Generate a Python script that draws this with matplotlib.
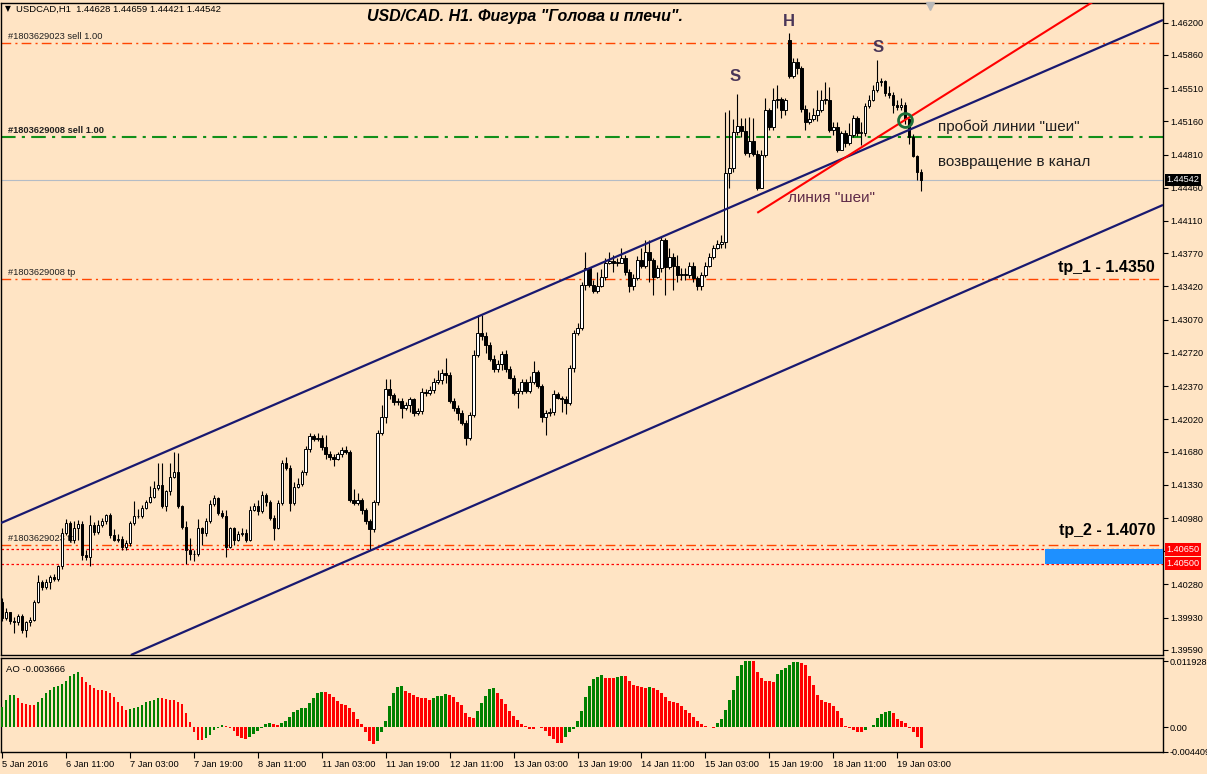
import matplotlib
matplotlib.use("Agg")
import matplotlib.pyplot as plt
import matplotlib.transforms as mtransforms
import numpy as np

W, H = 1207, 774
BG = "#ffe4c4"
UI_FONT = "Liberation Sans"

# USDCAD H1, bars 5 Jan 2016 19:00 .. 19 Jan 2016
first_open = 1.4010
gap_opens = {197: 1.4602}  # Monday 18 Jan opening gap
close = [
    1.3993, 1.3999, 1.3990, 1.3988, 1.3995, 1.3980, 1.3988, 1.3991, 1.4010, 1.4031,
    1.4025, 1.4031, 1.4036, 1.4034, 1.4047, 1.4082, 1.4093, 1.4075, 1.4088, 1.4092,
    1.4059, 1.4057, 1.4091, 1.4083, 1.4091, 1.4095, 1.4101, 1.4080, 1.4075, 1.4076,
    1.4068, 1.4072, 1.4093, 1.4100, 1.4100, 1.4109, 1.4115, 1.4120, 1.4130, 1.4133,
    1.4111, 1.4126, 1.4141, 1.4146, 1.4111, 1.4089, 1.4064, 1.4060, 1.4060, 1.4087,
    1.4082, 1.4095, 1.4113, 1.4119, 1.4103, 1.4100, 1.4068, 1.4087, 1.4075, 1.4081,
    1.4082, 1.4075, 1.4107, 1.4111, 1.4105, 1.4122, 1.4115, 1.4098, 1.4088, 1.4114,
    1.4156, 1.4151, 1.4114, 1.4131, 1.4134, 1.4146, 1.4171, 1.4184, 1.4181, 1.4182,
    1.4173, 1.4166, 1.4162, 1.4160, 1.4165, 1.4170, 1.4168, 1.4117, 1.4114, 1.4117,
    1.4106, 1.4095, 1.4086, 1.4115, 1.4188, 1.4205, 1.4234, 1.4228, 1.4220, 1.4221,
    1.4214, 1.4217, 1.4223, 1.4209, 1.4211, 1.4231, 1.4230, 1.4233, 1.4241, 1.4243,
    1.4251, 1.4249, 1.4221, 1.4214, 1.4209, 1.4198, 1.4182, 1.4207, 1.4270, 1.4293,
    1.4290, 1.4280, 1.4266, 1.4255, 1.4260, 1.4271, 1.4255, 1.4246, 1.4230, 1.4232,
    1.4241, 1.4232, 1.4241, 1.4252, 1.4237, 1.4204, 1.4209, 1.4210, 1.4229, 1.4224,
    1.4223, 1.4219, 1.4256, 1.4293, 1.4298, 1.4344, 1.4361, 1.4344, 1.4337, 1.4342,
    1.4352, 1.4367, 1.4369, 1.4367, 1.4367, 1.4372, 1.4357, 1.4342, 1.4351, 1.4370,
    1.4364, 1.4378, 1.4370, 1.4352, 1.4361, 1.4391, 1.4363, 1.4373, 1.4364, 1.4354,
    1.4355, 1.4354, 1.4364, 1.4351, 1.4342, 1.4354, 1.4364, 1.4373, 1.4383, 1.4387,
    1.4389, 1.4462, 1.4467, 1.4505, 1.4511, 1.4506, 1.4483, 1.4495, 1.4482, 1.4446,
    1.4481, 1.4528, 1.4510, 1.4538, 1.4540, 1.4528, 1.4538, 1.4564, 1.4579, 1.4572,
    1.4529, 1.4515, 1.4518, 1.4523, 1.4528, 1.4539, 1.4539, 1.4507, 1.4510, 1.4486,
    1.4504, 1.4493, 1.4502, 1.4520, 1.4504, 1.4504, 1.4532, 1.4539, 1.4549, 1.4557,
    1.4559, 1.4546, 1.4544, 1.4533, 1.4531, 1.4533, 1.4518, 1.4500, 1.4480, 1.44628,
    1.44542,
]
high = [
    1.4014, 1.4003, 1.3999, 1.3994, 1.3997, 1.3997, 1.3990, 1.3994, 1.4012, 1.4038,
    1.4033, 1.4034, 1.4038, 1.4039, 1.4049, 1.4088, 1.4097, 1.4095, 1.4095, 1.4096,
    1.4095, 1.4064, 1.4101, 1.4094, 1.4096, 1.4098, 1.4102, 1.4103, 1.4086, 1.4081,
    1.4079, 1.4075, 1.4095, 1.4116, 1.4108, 1.4112, 1.4117, 1.4132, 1.4137, 1.4156,
    1.4156, 1.4128, 1.4156, 1.4168, 1.4167, 1.4112, 1.4095, 1.4077, 1.4064, 1.4097,
    1.4089, 1.4098, 1.4117, 1.4122, 1.4120, 1.4107, 1.4107, 1.4089, 1.4089, 1.4084,
    1.4087, 1.4086, 1.4111, 1.4114, 1.4117, 1.4126, 1.4124, 1.4117, 1.4101, 1.4117,
    1.4159, 1.4162, 1.4154, 1.4136, 1.4140, 1.4149, 1.4174, 1.4188, 1.4187, 1.4188,
    1.4185, 1.4186, 1.4169, 1.4165, 1.4168, 1.4173, 1.4174, 1.4170, 1.4129, 1.4124,
    1.4119, 1.4109, 1.4097, 1.4117, 1.4191, 1.4217, 1.4244, 1.4244, 1.4230, 1.4225,
    1.4225, 1.4220, 1.4226, 1.4225, 1.4214, 1.4235, 1.4234, 1.4237, 1.4246, 1.4254,
    1.4255, 1.4267, 1.4252, 1.4225, 1.4217, 1.4212, 1.4201, 1.4210, 1.4275, 1.4312,
    1.4312, 1.4294, 1.4284, 1.4270, 1.4265, 1.4274, 1.4275, 1.4258, 1.4249, 1.4235,
    1.4244, 1.4244, 1.4248, 1.4263, 1.4254, 1.4239, 1.4212, 1.4214, 1.4233, 1.4231,
    1.4227, 1.4227, 1.4259, 1.4296, 1.4304, 1.4347, 1.4378, 1.4362, 1.4349, 1.4357,
    1.4360, 1.4372, 1.4378, 1.4375, 1.4372, 1.4383, 1.4375, 1.4360, 1.4355, 1.4374,
    1.4383, 1.4391, 1.4391, 1.4372, 1.4365, 1.4394, 1.4393, 1.4383, 1.4377, 1.4375,
    1.4362, 1.4362, 1.4368, 1.4368, 1.4353, 1.4357, 1.4368, 1.4377, 1.4386, 1.4391,
    1.4396, 1.4526, 1.4528, 1.4518, 1.4545, 1.4520, 1.4520, 1.4521, 1.4519, 1.4486,
    1.4486, 1.4541, 1.4530, 1.4551, 1.4554, 1.4542, 1.4541, 1.4609, 1.4583, 1.4583,
    1.4574, 1.4533, 1.4526, 1.4530, 1.4549, 1.4549, 1.4557, 1.4552, 1.4515, 1.4515,
    1.4506, 1.4507, 1.4514, 1.4523, 1.4522, 1.4515, 1.4535, 1.4544, 1.4554, 1.4581,
    1.4562, 1.4560, 1.4553, 1.4547, 1.4539, 1.4541, 1.4536, 1.4520, 1.4503, 1.4481,
    1.44659,
]
low = [
    1.3989, 1.3991, 1.3986, 1.3977, 1.3985, 1.3977, 1.3973, 1.3984, 1.3989, 1.4008,
    1.4022, 1.4023, 1.4023, 1.4032, 1.4032, 1.4044, 1.4080, 1.4073, 1.4072, 1.4075,
    1.4054, 1.4054, 1.4048, 1.4080, 1.4081, 1.4089, 1.4092, 1.4077, 1.4074, 1.4073,
    1.4064, 1.4064, 1.4069, 1.4091, 1.4098, 1.4098, 1.4108, 1.4114, 1.4119, 1.4128,
    1.4109, 1.4105, 1.4122, 1.4140, 1.4109, 1.4086, 1.4050, 1.4054, 1.4053, 1.4058,
    1.4070, 1.4079, 1.4093, 1.4111, 1.4101, 1.4098, 1.4057, 1.4066, 1.4070, 1.4074,
    1.4079, 1.4073, 1.4074, 1.4105, 1.4101, 1.4103, 1.4111, 1.4096, 1.4075, 1.4086,
    1.4112, 1.4149, 1.4105, 1.4112, 1.4130, 1.4132, 1.4143, 1.4168, 1.4179, 1.4179,
    1.4170, 1.4160, 1.4159, 1.4153, 1.4159, 1.4162, 1.4165, 1.4115, 1.4112, 1.4112,
    1.4102, 1.4092, 1.4064, 1.4083, 1.4112, 1.4186, 1.4198, 1.4223, 1.4217, 1.4217,
    1.4203, 1.4212, 1.4210, 1.4206, 1.4207, 1.4208, 1.4227, 1.4228, 1.4230, 1.4239,
    1.4239, 1.4240, 1.4219, 1.4211, 1.4201, 1.4196, 1.4175, 1.4180, 1.4205, 1.4268,
    1.4286, 1.4272, 1.4263, 1.4252, 1.4252, 1.4254, 1.4252, 1.4244, 1.4228, 1.4214,
    1.4229, 1.4230, 1.4230, 1.4239, 1.4235, 1.4199, 1.4186, 1.4206, 1.4207, 1.4223,
    1.4210, 1.4208, 1.4217, 1.4252, 1.4291, 1.4296, 1.4338, 1.4341, 1.4335, 1.4335,
    1.4341, 1.4349, 1.4366, 1.4357, 1.4364, 1.4368, 1.4354, 1.4336, 1.4338, 1.4349,
    1.4362, 1.4362, 1.4347, 1.4333, 1.4351, 1.4357, 1.4333, 1.4360, 1.4338, 1.4347,
    1.4349, 1.4349, 1.4351, 1.4347, 1.4338, 1.4338, 1.4352, 1.4363, 1.4371, 1.4381,
    1.4383, 1.4383, 1.4446, 1.4463, 1.4502, 1.4499, 1.4481, 1.4478, 1.4479, 1.4444,
    1.4446, 1.4478, 1.4507, 1.4507, 1.4530, 1.4520, 1.4523, 1.4562, 1.4562, 1.4566,
    1.4526, 1.4507, 1.4513, 1.4516, 1.4516, 1.4526, 1.4534, 1.4505, 1.4502, 1.4484,
    1.4486, 1.4489, 1.4491, 1.4500, 1.4501, 1.4491, 1.4501, 1.4530, 1.4537, 1.4547,
    1.4553, 1.4543, 1.4541, 1.4525, 1.4528, 1.4528, 1.4513, 1.4492, 1.4478, 1.4454,
    1.44421,
]

# Awesome Oscillator, one value per bar
ao = [
    0.0036, 0.0050, 0.0058, 0.0059, 0.0053, 0.0044, 0.0042, 0.0041, 0.0041, 0.0046,
    0.0053, 0.0061, 0.0068, 0.0072, 0.0074, 0.0078, 0.0084, 0.0093, 0.0096, 0.0100,
    0.0090, 0.0082, 0.0076, 0.0071, 0.0068, 0.0067, 0.0066, 0.0062, 0.0055, 0.0045,
    0.0038, 0.0032, 0.0033, 0.0034, 0.0037, 0.0041, 0.0045, 0.0048, 0.0050, 0.0052,
    0.0052, 0.0051, 0.0050, 0.0049, 0.0046, 0.0042, 0.0026, 0.0010, -0.0008, -0.0023,
    -0.0023, -0.0020, -0.0013, -0.0005, -0.0002, 0.0004, 0.0003, -0.0002, -0.0007, -0.0015,
    -0.0020, -0.0021, -0.0018, -0.0012, -0.0007, -0.0002, 0.0006, 0.0008, 0.0006, 0.0004,
    0.0008, 0.0012, 0.0019, 0.0027, 0.0032, 0.0034, 0.0035, 0.0043, 0.0052, 0.0061,
    0.0064, 0.0064, 0.0060, 0.0054, 0.0048, 0.0042, 0.0040, 0.0035, 0.0027, 0.0015,
    0.0006, -0.0009, -0.0024, -0.0030, -0.0025, -0.0009, 0.0011, 0.0039, 0.0062, 0.0073,
    0.0074, 0.0066, 0.0061, 0.0058, 0.0054, 0.0052, 0.0052, 0.0050, 0.0052, 0.0056,
    0.0057, 0.0060, 0.0059, 0.0054, 0.0046, 0.0041, 0.0025, 0.0019, 0.0017, 0.0030,
    0.0043, 0.0057, 0.0069, 0.0070, 0.0061, 0.0051, 0.0042, 0.0030, 0.0021, 0.0013,
    0.0006, 0.0002, -0.0003, -0.0003, 0.0001, -0.0001, -0.0007, -0.0015, -0.0021, -0.0029,
    -0.0029, -0.0017, -0.0009, -0.0003, 0.0011, 0.0030, 0.0055, 0.0075, 0.0087, 0.0091,
    0.0094, 0.0089, 0.0088, 0.0088, 0.0091, 0.0092, 0.0092, 0.0084, 0.0077, 0.0074,
    0.0073, 0.0071, 0.0072, 0.0071, 0.0067, 0.0061, 0.0055, 0.0047, 0.0046, 0.0044,
    0.0038, 0.0031, 0.0025, 0.0018, 0.0011, 0.0006, 0.0002, 0.00005, -0.00005, 0.0007,
    0.0015, 0.0032, 0.0050, 0.0068, 0.0092, 0.0112, 0.0119, 0.011928, 0.0119, 0.0100,
    0.0088, 0.0084, 0.0084, 0.0082, 0.0096, 0.0104, 0.0107, 0.0113, 0.0117, 0.01175,
    0.0115, 0.0113, 0.0093, 0.0076, 0.0058, 0.0050, 0.0046, 0.0044, 0.0038, 0.0029,
    0.0016, 0.0003, -0.0001, -0.0005, -0.0008, -0.00085, -0.0004, 0.00003, 0.0005, 0.0016,
    0.0024, 0.0028, 0.0029, 0.0025, 0.0015, 0.0011, 0.0007, -0.0002, -0.0008, -0.0017,
    -0.003666,
]

date_labels = ["5 Jan 2016", "6 Jan 11:00", "7 Jan 03:00", "7 Jan 19:00", "8 Jan 11:00",
               "11 Jan 03:00", "11 Jan 19:00", "12 Jan 11:00", "13 Jan 03:00", "13 Jan 19:00",
               "14 Jan 11:00", "15 Jan 03:00", "15 Jan 19:00", "18 Jan 11:00", "19 Jan 03:00"]
date_step = 16
price_ticks = [1.46200, 1.45860, 1.45510, 1.45160, 1.44810, 1.44460, 1.44110, 1.43770,
               1.43420, 1.43070, 1.42720, 1.42370, 1.42020, 1.41680, 1.41330, 1.40980,
               1.40630, 1.40280, 1.39930, 1.39590]
hidden_tick = 1.40630  # sits under the red pending-order boxes
ao_ticks = [0.011928, 0.0, -0.004409]

sell_lines = [(1.4599, "#1803629023 sell 1.00", "#ff4500"),
              (1.4500, "#1803629008 sell 1.00", "#12901a")]
tp_lines = [(1.4350, "#1803629008 tp"), (1.4070, "#1803629023 tp")]
pending_lines = [1.4065, 1.4050]
bid = 1.44542
upper_chan = [(-0.25, 1.40928), (290.5, 1.46228)]
lower_chan = [(32.25, 1.39537), (290.5, 1.44279)]
neck = [(189.2, 1.44202), (224.75, 1.45143)]
breakout = (226, 1.45175)

n = len(close)
opens = [first_open] + close[:-1]
for k, v in gap_opens.items():
    opens[k] = v
o = np.array(opens)
c = np.array(close)
hi = np.array(high)
lo = np.array(low)
x = np.arange(n)


def fx(px):
    return px / W


def fy(py):
    return 1 - py / H


fig = plt.figure(figsize=(W / 100, H / 100), dpi=100, facecolor=BG)
ax = fig.add_axes([fx(1), fy(655), fx(1163) - fx(1), fy(3) - fy(655)], facecolor=BG)
ax_ao = fig.add_axes([fx(1), fy(752), fx(1163) - fx(1), fy(658) - fy(752)], facecolor=BG)

xmin, xmax = -0.25, 290.5
ax.set_xlim(xmin, xmax)
ax.set_ylim(1.39537, 1.46407)
ax_ao.set_xlim(xmin, xmax)
ax_ao.set_ylim(-0.00444, 0.01247)

for a in (ax, ax_ao):
    for s in a.spines.values():
        s.set_color("black")
        s.set_linewidth(1)
    a.yaxis.tick_right()
    a.tick_params(axis="y", direction="out", length=3.5, width=0.8, pad=1.5,
                  labelsize=6.6, colors="black", labelfontfamily=UI_FONT)

# candles
ax.vlines(x, lo, hi, color="black", lw=0.8, zorder=4)
body = np.maximum(np.abs(c - o), 0.00004)
ax.bar(x, body, bottom=np.minimum(o, c), width=0.62,
       color=np.where(c >= o, "white", "black"), edgecolor="black",
       linewidth=0.7, zorder=5)

ax.set_xticks([])
ax.set_yticks(price_ticks)
ax.set_yticklabels(["" if t == hidden_tick else f"{t:.5f}" for t in price_ticks])

trans_r = mtransforms.blended_transform_factory(ax.transAxes, ax.transData)
lab_font = dict(fontsize=6.7, color="#202020", family=UI_FONT)

# order lines and their labels
for price, txt, col in sell_lines:
    lw = 1.0 if col == "#ff4500" else 1.5
    ax.axhline(price, color=col, lw=lw, ls=(0, (7, 3, 1.5, 3)), zorder=2)
    ax.text(1.5, price + 0.00016, txt, va="bottom", ha="left", zorder=3,
            fontweight="bold" if col != "#ff4500" else "normal", **lab_font)
for price, txt in tp_lines:
    ax.axhline(price, color="#ff4500", lw=1.0, ls=(0, (7, 3, 1.5, 3)), zorder=2)
    ax.text(1.5, price + 0.00016, txt, va="bottom", ha="left", zorder=3, **lab_font)
for price in pending_lines:
    ax.axhline(price, color="#ff0000", lw=0.9, ls=(0, (2, 2)), zorder=2)
ax.axhline(bid, color="#b4bcc6", lw=0.8, zorder=2)

# pending zone box on the right
ax.fill_between([261, xmax], pending_lines[1], pending_lines[0], color="#1e90ff",
                lw=0, zorder=3)

# channel and neckline
for (x0, y0), (x1, y1) in (upper_chan, lower_chan):
    ax.plot([x0, x1], [y0, y1], color="#191970", lw=1.6, zorder=6,
            solid_capstyle="butt")
(nx0, ny0), (nx1, ny1) = neck
slope = (ny1 - ny0) / (nx1 - nx0)
ax.plot([nx0, xmax], [ny0, ny0 + slope * (xmax - nx0)], color="#ff0000", lw=1.5, zorder=6)
ax.plot([breakout[0]], [breakout[1]], marker="o", ms=10, mfc="none", mec="#1b6e38",
        mew=2, zorder=7)

# annotations
ann = dict(family="Liberation Sans", zorder=8)
ax.text(197, 1.46207, "H", ha="center", va="center", fontsize=12, fontweight="bold",
        color="#4a3658", **ann)
ax.text(183.5, 1.45628, "S", ha="center", va="center", fontsize=12, fontweight="bold",
        color="#4a3658", **ann)
ax.text(219.25, 1.45933, "S", ha="center", va="center", fontsize=12, fontweight="bold",
        color="#4a3658", **ann)
ax.text(234.25, 1.45101, 'пробой линии "шеи"', ha="left", va="center", fontsize=11,
        color="#202020", **ann)
ax.text(234.25, 1.44732, "возвращение в канал", ha="left", va="center", fontsize=11,
        color="#202020", **ann)
ax.text(196.75, 1.44353, 'линия "шеи"', ha="left", va="center", fontsize=11,
        color="#5e2a48", **ann)
ax.text(288.5, 1.43615, "tp_1 - 1.4350", ha="right", va="center", fontsize=11.5,
        fontweight="bold", color="black", **ann)
ax.text(288.5, 1.40854, "tp_2 - 1.4070", ha="right", va="center", fontsize=11.5,
        fontweight="bold", color="black", **ann)

# price boxes on the axis
ax.text(1.003, bid, f"{bid:.5f}", transform=trans_r, ha="left", va="center",
        fontsize=6.6, family=UI_FONT, color="white", zorder=9, clip_on=False,
        bbox=dict(boxstyle="square,pad=0.2", fc="black", ec="none"))
for price in pending_lines:
    ax.text(1.003, price, f"{price:.5f}", transform=trans_r, ha="left", va="center",
            fontsize=6.6, family=UI_FONT, color="white", zorder=9, clip_on=False,
            bbox=dict(boxstyle="square,pad=0.2", fc="#ff0000", ec="none"))

# chart shift marker
ax.plot([232.25], [0.995], marker="v", ms=6, color="#b8b8b8",
        transform=mtransforms.blended_transform_factory(ax.transData, ax.transAxes),
        clip_on=False, zorder=9)

# header and title
fig.text(fx(5), fy(9), "▼", fontsize=5.5, va="center", ha="left", color="black")
fig.text(fx(16), fy(9), "USDCAD,H1  1.44628 1.44659 1.44421 1.44542", fontsize=6.8,
         family=UI_FONT, va="center", ha="left", color="black")
fig.text(fx(525), fy(16), 'USD/CAD. H1. Фигура "Голова и плечи".', fontsize=11.5,
         fontweight="bold", fontstyle="italic", family="Liberation Sans",
         va="center", ha="center", color="black")

# AO histogram
ao_cols = ["#008000"] + ["#008000" if ao[i] > ao[i - 1] else "#ff0000" for i in range(1, n)]
ax_ao.bar(x, ao, width=0.65, color=ao_cols, zorder=3)
ax_ao.set_yticks(ao_ticks)
ax_ao.set_yticklabels(["0.011928", "0.00", "-0.004409"])
ax_ao.text(0.004, 0.93, f"AO {ao[-1]:.6f}", transform=ax_ao.transAxes, fontsize=6.8,
           family=UI_FONT, va="top", ha="left", color="black")

ticks = [i * date_step for i in range(len(date_labels))]
ax_ao.set_xticks(ticks)
ax_ao.set_xticklabels(date_labels, ha="left")
ax_ao.tick_params(axis="x", direction="out", length=4, width=0.8, pad=2, labelsize=6.7,
                  labelfontfamily=UI_FONT)

fig.savefig("out.png", dpi=100, facecolor=BG)
plt.close(fig)
